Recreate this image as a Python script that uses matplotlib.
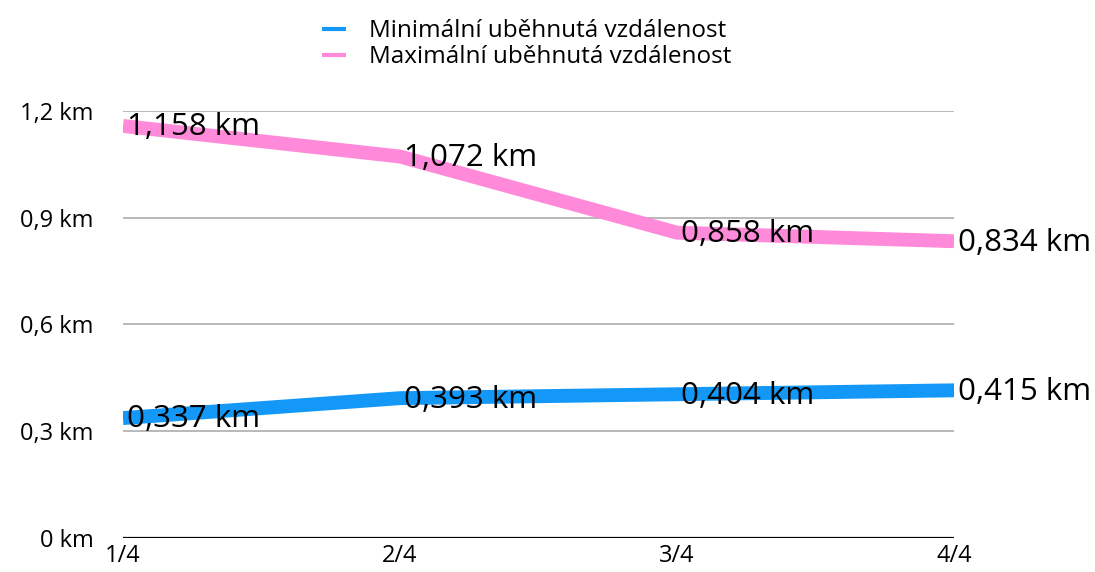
import matplotlib; matplotlib.use('Agg')
import matplotlib.pyplot as plt
import numpy as np

# data
quarters = ['1/4', '2/4', '3/4', '4/4']
min_dist = [0.337, 0.393, 0.404, 0.415]
max_dist = [1.158, 1.072, 0.858, 0.834]
series_names = ['Minimální uběhnutá vzdálenost', 'Maximální uběhnutá vzdálenost']
yticks = [0, 0.3, 0.6, 0.9, 1.2]

BLUE, PINK = '#1398f7', '#ff8ad9'
FONT = ['Open Sans', 'DejaVu Sans']


def km(v):
    s = f'{v:.3f}'.rstrip('0').rstrip('.') if v else '0'
    return s.replace('.', ',') + ' km'


fig = plt.figure(figsize=(10.95, 5.72), dpi=100)
ax = fig.add_axes([0.1123, 0.0594, 0.759, 0.7466])

x = np.arange(len(quarters))
h_min, = ax.plot(x, min_dist, color=BLUE, lw=10, solid_capstyle='butt',
                 solid_joinstyle='miter', zorder=3)
h_max, = ax.plot(x, max_dist, color=PINK, lw=10, solid_capstyle='butt',
                 solid_joinstyle='miter', zorder=3)

for series in (min_dist, max_dist):
    for xi, v in zip(x, series):
        ax.annotate(km(v), (xi, v), xytext=(3, -1), textcoords='offset points',
                    ha='left', va='center', fontsize=22.5, family=FONT,
                    color='black', zorder=5, annotation_clip=False)

ax.set_xlim(0, len(quarters) - 1)
ax.set_ylim(0, 1.2)
ax.set_yticks(yticks)
ax.set_yticklabels([km(t) for t in yticks], family=FONT, fontsize=17)
ax.set_xticks(x)
ax.set_xticklabels(quarters, family=FONT, fontsize=17)
ax.tick_params(axis='y', length=0, pad=21)
ax.tick_params(axis='x', length=0, pad=4)

for t in yticks[1:]:
    ax.axhline(t, color='#a6a6a6', lw=1.1, zorder=1)
ax.axhline(0, color='black', lw=1.6, zorder=2)
for s in ax.spines.values():
    s.set_visible(False)

leg = fig.legend([h_min, h_max], series_names, loc='upper center',
                 bbox_to_anchor=(0.481, 1.005), frameon=False, ncol=1,
                 prop={'family': FONT, 'size': 17.5},
                 handlelength=1.0, handletextpad=0.95, labelspacing=0.1)
for line in leg.get_lines():
    line.set_linewidth(3)

fig.savefig('out.png', dpi=100)
plt.close(fig)
